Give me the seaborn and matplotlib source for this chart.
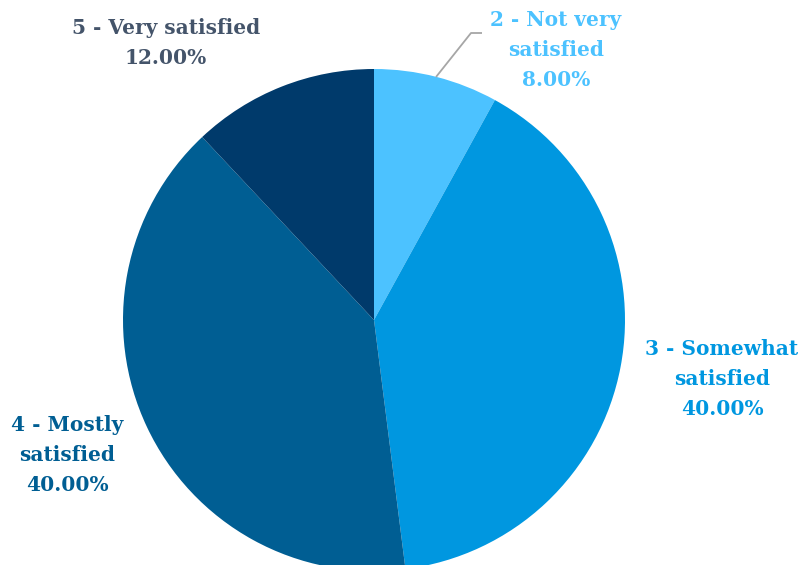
import matplotlib
matplotlib.use("Agg")
import matplotlib.pyplot as plt
import seaborn as sns

sns.set_theme(style="white")
plt.rcParams["font.family"] = ["DejaVu Serif"]

# Survey results: satisfaction rating shares
categories = ["2 - Not very satisfied", "3 - Somewhat satisfied",
              "4 - Mostly satisfied", "5 - Very satisfied"]
shares = [8.0, 40.0, 40.0, 12.0]
label_texts = ["2 - Not very\nsatisfied", "3 - Somewhat\nsatisfied",
               "4 - Mostly\nsatisfied", "5 - Very satisfied"]
slice_colors = ["#4CC2FF", "#0097E0", "#005E93", "#003A6B"]
label_colors = ["#4CC2FF", "#0097E0", "#005E93", "#44546A"]

W, H = 804, 565
fig = plt.figure(figsize=(W / 100, H / 100), dpi=100)
ax = fig.add_axes([0, 0, 1, 1])

cx, cy, r = 374, H - 320, 251
ax.pie(shares, colors=slice_colors, startangle=90, counterclock=False,
       center=(cx, cy), radius=r, frame=True,
       wedgeprops=dict(linewidth=0))
ax.set_xlim(0, W)
ax.set_ylim(0, H)
ax.set_aspect("auto")
ax.axis("off")

# label anchor positions (pixel centres of the text blocks)
label_pos = [(556, 50), (722, 379), (67, 455), (166, 43)]
for txt, share, col, (x, y) in zip(label_texts, shares, label_colors, label_pos):
    ax.text(x, H - y, f"{txt}\n{share:.2f}%", ha="center", va="center",
            color=col, fontsize=14.5, fontweight="bold", linespacing=1.6)

# leader line for the small slice
ax.plot([436, 471, 482], [H - 77, H - 33, H - 33], color="#A6A6A6", lw=1.3,
        solid_capstyle="butt")

fig.savefig("out.png", dpi=100, facecolor="white")
